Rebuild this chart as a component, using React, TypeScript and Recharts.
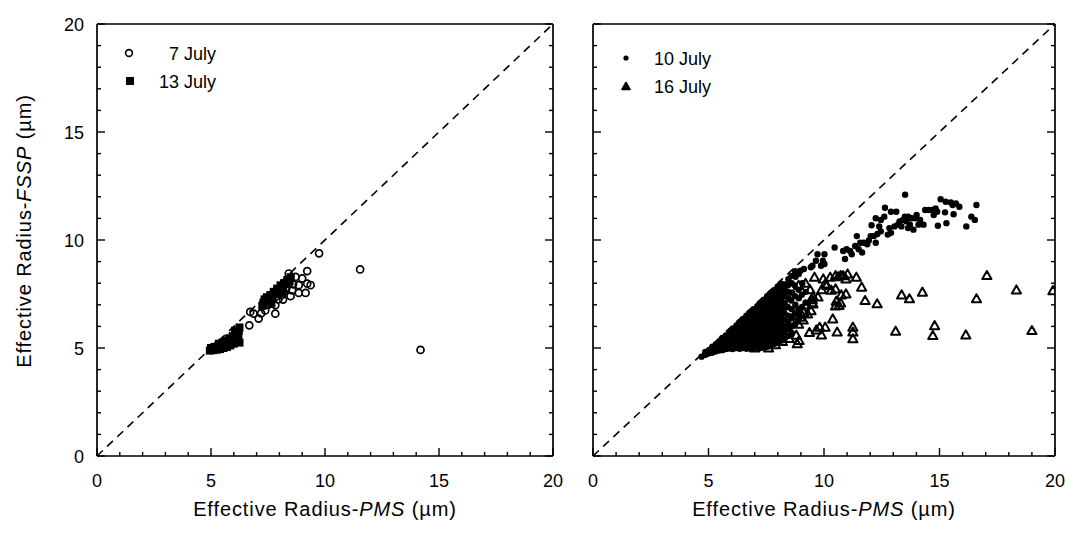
import React from "react";
import { ScatterChart, Scatter, XAxis, YAxis, ReferenceLine } from "recharts";

const FONT = "'Liberation Sans', Arial, Helvetica, sans-serif";

// tick positions (every 1 µm, labels every 5)
const TICKS = [0, 1, 2, 3, 4, 5, 6, 7, 8, 9, 10, 11, 12, 13, 14, 15, 16, 17, 18, 19, 20];
const MAJOR = [0, 5, 10, 15, 20];

// left panel: 7 July (open circles)
const july7 = [
  [6.68, 6.05], [6.72, 6.67], [6.87, 6.59], [7.09, 6.36], [7.38, 6.74], [7.6, 7.13], [7.82, 6.59],
  [7.82, 6.98], [7.82, 7.36], [8.16, 7.24], [8.19, 7.6], [8.41, 7.98], [8.41, 8.45], [8.49, 7.4],
  [8.56, 7.67], [8.71, 8.29], [8.85, 7.55], [8.85, 7.91], [9.0, 8.22], [9.15, 7.55], [9.22, 8.56],
  [9.22, 7.98], [9.37, 7.91], [9.74, 9.38], [11.54, 8.64], [14.19, 4.91], [7.5, 7.0], [7.95, 7.25],
  [8.1, 7.45], [8.3, 7.75], [8.6, 7.95], [7.2, 6.6], [8.0, 7.75],
];

// left panel: 13 July (filled squares)
const july13 = [
  [4.95, 4.88], [5.0, 5.0], [5.1, 4.9], [5.15, 5.05], [5.25, 4.92], [5.3, 5.1], [5.35, 5.2],
  [5.4, 4.95], [5.45, 5.08], [5.5, 5.25], [5.55, 5.0], [5.6, 5.15], [5.65, 5.35], [5.7, 5.05],
  [5.75, 5.25], [5.8, 5.45], [5.85, 5.12], [5.9, 5.35], [5.95, 5.55], [6.0, 5.2], [6.05, 5.4],
  [6.1, 5.65], [6.15, 5.3], [6.2, 5.5], [6.22, 5.8], [6.25, 5.95], [6.25, 5.25], [6.05, 5.8],
  [7.3, 7.1], [7.35, 7.25], [7.45, 7.35], [7.55, 7.2], [7.6, 7.45], [7.7, 7.35], [7.75, 7.6],
  [7.85, 7.5], [7.9, 7.75], [8.0, 7.65], [8.05, 7.9], [8.15, 7.8], [8.2, 8.0], [8.3, 7.95],
  [8.35, 8.15], [8.45, 8.1], [8.5, 8.28], [7.65, 7.05], [8.1, 7.55], [7.25, 6.95],
];

// right panel: 10 July (small dots)
const july10 = [
  [4.7, 4.6], [4.85, 4.68], [4.86, 4.82], [5.0, 4.74], [5.02, 4.9], [5.15, 4.78], [5.13, 4.96],
  [5.17, 5.06], [5.3, 4.84], [5.28, 5.0], [5.32, 5.18], [5.45, 4.88], [5.44, 5.08], [5.47, 5.28],
  [5.6, 4.9], [5.58, 5.1], [5.62, 5.3], [5.6, 5.46], [5.75, 4.95], [5.74, 5.14], [5.77, 5.36],
  [5.75, 5.58], [5.9, 4.98], [5.88, 5.2], [5.92, 5.4], [5.9, 5.6], [5.91, 5.76], [6.05, 4.95],
  [6.04, 5.16], [6.06, 5.36], [6.05, 5.55], [6.03, 5.74], [6.06, 5.9], [6.2, 5.0], [6.18, 5.2],
  [6.22, 5.44], [6.2, 5.64], [6.19, 5.84], [6.21, 6.04], [6.35, 4.96], [6.34, 5.15], [6.36, 5.4],
  [6.35, 5.6], [6.33, 5.8], [6.36, 6.0], [6.35, 6.2], [6.5, 5.0], [6.48, 5.24], [6.52, 5.46],
  [6.5, 5.7], [6.49, 5.9], [6.51, 6.1], [6.5, 6.34], [6.65, 4.96], [6.64, 5.2], [6.66, 5.4],
  [6.65, 5.62], [6.63, 5.84], [6.66, 6.06], [6.65, 6.3], [6.64, 6.5], [6.8, 5.0], [6.79, 5.25],
  [6.81, 5.5], [6.8, 5.74], [6.78, 5.96], [6.82, 6.2], [6.8, 6.42], [6.79, 6.64], [6.95, 4.96],
  [6.94, 5.2], [6.96, 5.44], [6.95, 5.66], [6.93, 5.9], [6.96, 6.12], [6.95, 6.36], [6.94, 6.56],
  [6.96, 6.8], [7.1, 5.04], [7.09, 5.3], [7.11, 5.54], [7.1, 5.8], [7.08, 6.02], [7.12, 6.26],
  [7.1, 6.5], [7.09, 6.72], [7.11, 6.94], [7.25, 5.0], [7.24, 5.26], [7.26, 5.5], [7.25, 5.72],
  [7.23, 5.96], [7.27, 6.2], [7.25, 6.42], [7.24, 6.64], [7.26, 6.86], [7.25, 7.08], [7.4, 5.1],
  [7.39, 5.34], [7.41, 5.6], [7.4, 5.84], [7.38, 6.08], [7.42, 6.3], [7.4, 6.56], [7.39, 6.8],
  [7.41, 7.0], [7.4, 7.24], [7.55, 5.06], [7.54, 5.3], [7.56, 5.56], [7.55, 5.8], [7.53, 6.02],
  [7.57, 6.26], [7.55, 6.5], [7.54, 6.72], [7.56, 6.96], [7.55, 7.18], [7.54, 7.4], [7.7, 5.14],
  [7.69, 5.4], [7.71, 5.66], [7.7, 5.9], [7.68, 6.14], [7.72, 6.38], [7.7, 6.6], [7.69, 6.86],
  [7.71, 7.1], [7.7, 7.32], [7.69, 7.54], [7.85, 5.2], [7.84, 5.46], [7.86, 5.7], [7.85, 5.96],
  [7.83, 6.2], [7.87, 6.46], [7.85, 6.7], [7.84, 6.94], [7.86, 7.2], [7.85, 7.44], [7.84, 7.68],
  [8.0, 5.26], [7.99, 5.54], [8.01, 5.8], [8.0, 6.04], [7.98, 6.3], [8.02, 6.56], [8.0, 6.8],
  [7.99, 7.06], [8.01, 7.3], [8.0, 7.58], [7.99, 7.84], [8.15, 5.34], [8.14, 5.6], [8.16, 5.9],
  [8.15, 6.16], [8.13, 6.4], [8.17, 6.7], [8.15, 6.94], [8.14, 7.2], [8.16, 7.5], [8.15, 7.74],
  [8.14, 7.98], [8.3, 5.44], [8.29, 5.74], [8.31, 6.0], [8.3, 6.3], [8.28, 6.6], [8.32, 6.86],
  [8.3, 7.1], [8.29, 7.4], [8.31, 7.66], [8.3, 7.94], [8.45, 5.56], [8.44, 5.86], [8.46, 6.2],
  [8.45, 6.5], [8.43, 6.9], [8.47, 7.3], [8.45, 7.6], [8.44, 7.9], [8.46, 8.18], [8.6, 5.7],
  [8.59, 6.0], [8.61, 6.4], [8.6, 6.8], [8.58, 7.2], [8.62, 7.56], [8.6, 8.0], [8.59, 8.34],
  [8.75, 6.1], [8.74, 6.6], [8.76, 7.0], [8.75, 7.4], [8.73, 7.9], [8.77, 8.3], [8.75, 8.55],
  [8.9, 6.36], [8.89, 6.8], [8.91, 7.3], [8.9, 7.7], [9.05, 6.9], [9.04, 7.46], [9.06, 8.0],
  [9.2, 7.1], [9.21, 7.6],
  // upper branch
  [8.91, 8.43], [8.98, 8.58], [9.13, 8.66], [9.43, 8.74], [9.5, 8.81], [9.65, 9.04], [9.72, 9.34],
  [9.87, 8.81], [9.95, 9.04], [10.02, 9.34], [10.02, 8.89], [10.46, 9.65], [10.83, 9.49],
  [10.91, 9.12], [10.98, 9.57], [11.13, 9.49], [11.2, 9.34], [11.35, 9.72], [11.42, 10.18],
  [11.5, 9.57], [11.57, 9.87], [11.65, 9.42], [11.72, 9.87], [11.87, 9.8], [11.94, 9.98],
  [12.02, 10.18], [12.16, 10.18], [12.24, 9.87], [12.31, 10.28], [12.46, 10.4], [12.76, 10.25],
  [12.9, 10.33], [12.83, 10.55], [13.05, 10.63], [12.39, 10.63], [12.06, 10.68], [12.24, 11.01],
  [12.46, 10.93], [12.61, 11.08], [12.64, 11.49], [12.9, 11.31], [13.13, 11.31], [13.2, 10.71],
  [13.27, 10.86], [13.35, 10.63], [13.42, 10.93], [13.5, 11.08], [13.57, 10.86], [13.64, 11.08],
  [13.64, 10.55], [13.72, 10.71], [13.79, 11.01], [13.87, 10.48], [13.94, 11.01], [14.01, 11.16],
  [14.09, 10.71], [14.16, 10.93], [14.31, 10.71], [14.38, 11.39], [14.53, 11.39], [14.68, 11.39],
  [14.75, 11.16], [14.83, 11.46], [14.9, 11.31], [14.93, 10.66], [15.05, 11.89], [15.24, 11.28],
  [15.27, 11.77], [15.3, 10.78], [15.49, 11.74], [15.57, 11.62], [15.61, 11.19], [15.71, 11.69],
  [15.86, 11.54], [16.16, 10.63], [16.38, 11.08], [16.53, 10.93], [16.6, 11.62], [13.51, 12.1],
];

// right panel: 16 July (open triangles)
const july16 = [
  [17.05, 8.36], [18.33, 7.69], [19.91, 7.66], [16.6, 7.28], [14.26, 7.59], [13.36, 7.46],
  [13.7, 7.28], [12.3, 7.05], [11.78, 7.2], [11.63, 7.82], [19.0, 5.81], [16.14, 5.61],
  [14.71, 5.58], [14.79, 6.04], [13.1, 5.78], [11.25, 5.97], [11.25, 5.74], [11.25, 5.43],
  [10.57, 5.74], [10.38, 6.35], [10.05, 5.97], [9.89, 5.61], [9.67, 5.84], [8.84, 5.2],
  [10.72, 7.09], [10.65, 6.97], [9.74, 7.36], [9.29, 6.58], [9.59, 8.28], [9.97, 8.2],
  [10.27, 8.28], [10.5, 8.36], [10.72, 8.36], [11.02, 8.43], [10.95, 8.2], [11.4, 8.28],
  [10.12, 7.9], [10.5, 7.74], [10.05, 7.97], [10.95, 7.51], [10.75, 7.46], [10.31, 7.68],
  [10.53, 7.17], [10.5, 6.95], [9.52, 7.39], [9.49, 7.24], [9.12, 6.65], [8.98, 6.43],
  [10.83, 8.35], [10.61, 8.3], [7.0, 5.0], [7.3, 5.1], [7.6, 5.0], [7.9, 5.15], [8.2, 5.3],
  [8.5, 5.45], [8.8, 5.6], [8.92, 5.35], [8.6, 6.2], [8.9, 6.1], [9.0, 6.6], [9.2, 7.0],
  [9.5, 7.1], [9.4, 7.7], [9.9, 7.7], [9.2, 8.0], [8.9, 7.9], [8.1, 5.6], [8.4, 6.0],
  [8.7, 6.5], [9.1, 6.3], [9.37, 5.72], [9.81, 5.96], [9.52, 7.04], [9.44, 6.73],
];

const pts = (a: number[][]) => a.map(([x, y]) => ({ x, y }));

const AXIS = { stroke: "#000", strokeWidth: 1.7 };

const BottomTick = ({ x, y, payload }: any) => {
  const major = MAJOR.includes(payload.value);
  return (
    <g>
      <line x1={x} y1={y} x2={x} y2={y - (major ? 8 : 4)} stroke="#000" strokeWidth={1.4} />
      {major && (
        <text x={x} y={y + 31} textAnchor="middle" fontSize={18} fill="#000">
          {payload.value}
        </text>
      )}
    </g>
  );
};

const TopTick = ({ x, y, payload }: any) => {
  const major = MAJOR.includes(payload.value);
  return <line x1={x} y1={y} x2={x} y2={y + (major ? 8 : 4)} stroke="#000" strokeWidth={1.4} />;
};

const LeftTick = ({ x, y, payload, labels }: any) => {
  const major = MAJOR.includes(payload.value);
  return (
    <g>
      <line x1={x} y1={y} x2={x + (major ? 8 : 4)} y2={y} stroke="#000" strokeWidth={1.4} />
      {major && labels && (
        <text x={x - 13} y={y + 6.5} textAnchor="end" fontSize={18} fill="#000">
          {payload.value}
        </text>
      )}
    </g>
  );
};

const RightTick = ({ x, y, payload }: any) => {
  const major = MAJOR.includes(payload.value);
  return <line x1={x} y1={y} x2={x - (major ? 8 : 4)} y2={y} stroke="#000" strokeWidth={1.4} />;
};

const Ring = (p: any) => <circle cx={p.cx} cy={p.cy} r={3.5} fill="none" stroke="#000" strokeWidth={1.7} />;
const Square = (p: any) => <rect x={p.cx - 4} y={p.cy - 4} width={8} height={8} fill="#000" />;
const Dot = (p: any) => <circle cx={p.cx} cy={p.cy} r={3.2} fill="#000" />;
const Tri = (p: any) => (
  <path
    d={`M${p.cx},${p.cy - 4.5} L${p.cx + 4.6},${p.cy + 3.6} L${p.cx - 4.6},${p.cy + 3.6} Z`}
    fill="none"
    stroke="#000"
    strokeWidth={2}
    strokeLinejoin="round"
  />
);

const XTitle = ({ cx }: { cx: number }) => (
  <text x={cx} y={516} textAnchor="middle" fontSize={20} letterSpacing={0.9} fill="#000">
    Effective Radius-<tspan fontStyle="italic">PMS</tspan> (µm)
  </text>
);

function Panel({
  left,
  width,
  margin,
  yLabels,
  children,
}: {
  left: number;
  width: number;
  margin: { top: number; right: number; bottom: number; left: number };
  yLabels: boolean;
  children: React.ReactNode;
}) {
  // axes are 1px thick so they still draw; margins carry the rest of the offset
  return (
    <div style={{ position: "absolute", left, top: 0 }}>
      <ScatterChart width={width} height={560} margin={margin} style={{ fontFamily: FONT }}>
        <XAxis
          xAxisId="b"
          dataKey="x"
          type="number"
          domain={[0, 20]}
          ticks={TICKS}
          interval={0}
          height={1}
          tickSize={0}
          tickMargin={0}
          tickLine={false}
          axisLine={AXIS}
          allowDataOverflow
          tick={(p: any) => <BottomTick {...p} />}
        />
        <XAxis
          xAxisId="t"
          orientation="top"
          type="number"
          domain={[0, 20]}
          ticks={TICKS}
          interval={0}
          height={1}
          tickSize={0}
          tickMargin={0}
          tickLine={false}
          axisLine={AXIS}
          allowDataOverflow
          tick={(p: any) => <TopTick {...p} />}
        />
        <YAxis
          yAxisId="l"
          dataKey="y"
          type="number"
          domain={[0, 20]}
          ticks={TICKS}
          interval={0}
          width={1}
          tickSize={0}
          tickMargin={0}
          tickLine={false}
          axisLine={AXIS}
          allowDataOverflow
          tick={(p: any) => <LeftTick {...p} labels={yLabels} />}
        />
        <YAxis
          yAxisId="r"
          orientation="right"
          type="number"
          domain={[0, 20]}
          ticks={TICKS}
          interval={0}
          width={1}
          tickSize={0}
          tickMargin={0}
          tickLine={false}
          axisLine={AXIS}
          allowDataOverflow
          tick={(p: any) => <RightTick {...p} />}
        />
        <ReferenceLine
          xAxisId="b"
          yAxisId="l"
          segment={[
            { x: 0, y: 0 },
            { x: 20, y: 20 },
          ]}
          stroke="#000"
          strokeWidth={1.6}
          strokeDasharray="8 6"
        />
        {children}
      </ScatterChart>
    </div>
  );
}

export default function App() {
  return (
    <div
      style={{
        position: "absolute",
        left: 0,
        top: 0,
        width: 1065,
        height: 560,
        background: "#fff",
        fontFamily: FONT,
      }}
    >
      <Panel left={0} width={565} margin={{ top: 23, right: 11, bottom: 103, left: 96 }} yLabels>
        <Scatter xAxisId="b" yAxisId="l" name="7 July" data={pts(july7)} shape={Ring} isAnimationActive={false} />
        <Scatter xAxisId="b" yAxisId="l" name="13 July" data={pts(july13)} shape={Square} isAnimationActive={false} />
        <text
          x={24}
          y={231}
          transform="rotate(-90, 24, 231)"
          textAnchor="middle"
          dominantBaseline="central"
          fontSize={20}
          letterSpacing={0.9}
          fill="#000"
        >
          Effective Radius-<tspan fontStyle="italic">FSSP</tspan> (µm)
        </text>
        <XTitle cx={325} />
        <circle cx={129} cy={53} r={3.4} fill="none" stroke="#000" strokeWidth={1.6} />
        <text x={216} y={59.5} textAnchor="end" fontSize={18} fill="#000">7 July</text>
        <rect x={126} y={77} width={8} height={8} fill="#000" />
        <text x={216} y={87.5} textAnchor="end" fontSize={18} fill="#000">13 July</text>
      </Panel>
      <Panel left={565} width={500} margin={{ top: 23, right: 9, bottom: 103, left: 27 }} yLabels={false}>
        <Scatter xAxisId="b" yAxisId="l" name="10 July" data={pts(july10)} shape={Dot} isAnimationActive={false} />
        <Scatter xAxisId="b" yAxisId="l" name="16 July" data={pts(july16)} shape={Tri} isAnimationActive={false} />
        <XTitle cx={259} />
        <circle cx={61} cy={58} r={2.6} fill="#000" />
        <text x={89} y={64.5} fontSize={18} fill="#000">10 July</text>
        <path d="M61,82.5 L65,89.5 L57,89.5 Z" fill="#000" stroke="#000" strokeWidth={1.6} strokeLinejoin="round" />
        <text x={89} y={92.5} fontSize={18} fill="#000">16 July</text>
      </Panel>
    </div>
  );
}
